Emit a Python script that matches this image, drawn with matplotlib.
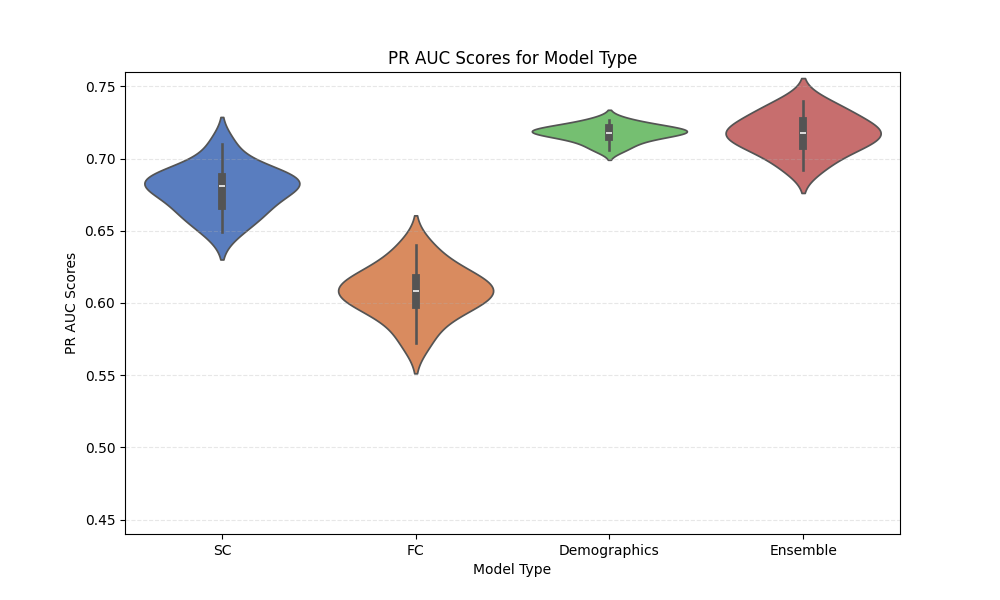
import matplotlib
matplotlib.use("Agg")
import matplotlib.pyplot as plt
import seaborn as sns
import pandas as pd

categories = ["SC", "FC", "Demographics", "Ensemble"]
sc = [0.649, 0.658, 0.663, 0.666, 0.672, 0.678, 0.680, 0.682, 0.684, 0.686, 0.688, 0.690, 0.695, 0.710]
fc = [0.572, 0.585, 0.594, 0.598, 0.601, 0.605, 0.607, 0.609, 0.612, 0.615, 0.618, 0.622, 0.629, 0.640]
demo = [0.706, 0.710, 0.713, 0.715, 0.717, 0.718, 0.718, 0.719, 0.720, 0.721, 0.722, 0.724, 0.727]
ens = [0.692, 0.700, 0.706, 0.708, 0.712, 0.715, 0.717, 0.718, 0.720, 0.724, 0.727, 0.730, 0.735, 0.740]

rows = []
for name, vals in zip(categories, [sc, fc, demo, ens]):
    rows += [(name, v) for v in vals]
df = pd.DataFrame(rows, columns=["Model Type", "PR AUC Scores"])

fig, ax = plt.subplots(figsize=(10, 6), dpi=100)
sns.violinplot(data=df, x="Model Type", y="PR AUC Scores", hue="Model Type",
               palette="muted", order=categories, ax=ax, legend=False, bw_adjust=1.0)
ax.set_ylim(0.44, 0.76)
ax.grid(axis="y", linestyle="--", alpha=0.3)
ax.set_title("PR AUC Scores for Model Type")
fig.savefig("out.png")
